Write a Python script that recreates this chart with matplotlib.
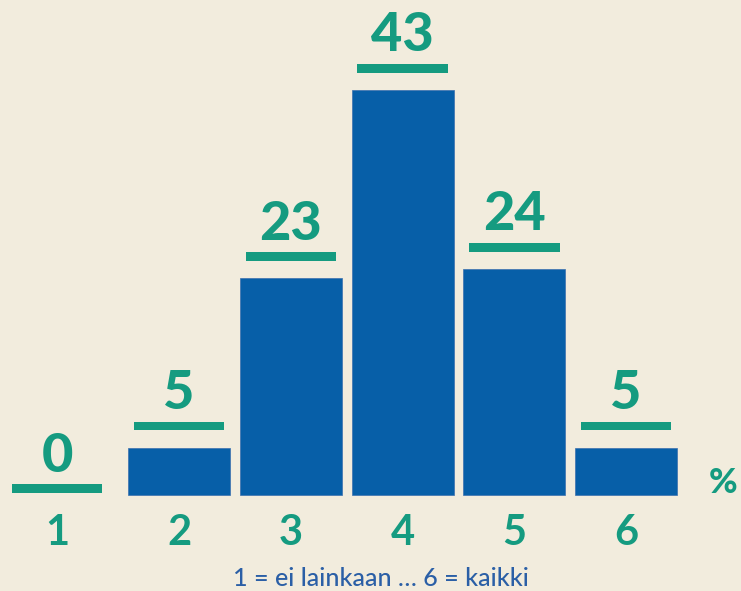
import matplotlib
matplotlib.use("Agg")
import matplotlib.pyplot as plt
import numpy as np

categories = ["1", "2", "3", "4", "5", "6"]
values = [0, 5, 23, 43, 24, 5]
caption = "1 = ei lainkaan \u2026 6 = kaikki"
unit = "%"

BG = "#F2ECDD"
BLUE = "#075FA8"
GREEN = "#159B80"
CAP_BLUE = "#2B5FA6"

fig = plt.figure(figsize=(7.41, 5.91), dpi=100, facecolor=BG)
ax = fig.add_axes([0, 0, 1, 1])
ax.set_facecolor(BG)
ax.set_xlim(-0.602, 6.029)
ax.set_ylim(-10.19, 52.55)
ax.axis("off")

x = np.arange(len(categories), dtype=float)
vals = np.array(values, dtype=float)
# first column sits slightly further left in the original layout
xs = x.copy()
xs[0] -= 0.09

nz = vals > 0
ax.bar(x[nz], vals[nz], width=0.913, color=BLUE, edgecolor="#3a6fae", linewidth=0.5, zorder=2)

# green lines above each bar
line_bottom = np.where(nz, vals + 1.85, 0.22)
ax.bar(xs, np.full_like(vals, 0.95), bottom=line_bottom, width=0.81, color=GREEN, zorder=2)

fam = ["Lato", "DejaVu Sans"]
for xi, v, lb in zip(xs, values, line_bottom):
    ax.text(xi, lb + 0.95 + 1.3, str(v), ha="center", va="baseline",
            fontsize=39, fontweight="black", color=GREEN, family=fam)

for xi, c in zip(xs, categories):
    ax.text(xi, -5.3, c, ha="center", va="baseline",
            fontsize=30, fontweight="bold", color=GREEN, family=fam)

ax.text(5.87, 0.2, unit, ha="center", va="baseline", fontsize=25,
        fontweight="black", color=GREEN, family=fam)

fig.text(381 / 741, 5 / 591, caption, ha="center", va="baseline", fontsize=18,
         fontweight="medium", color=CAP_BLUE, family=fam)

fig.savefig("out.png", dpi=100, facecolor=BG)
